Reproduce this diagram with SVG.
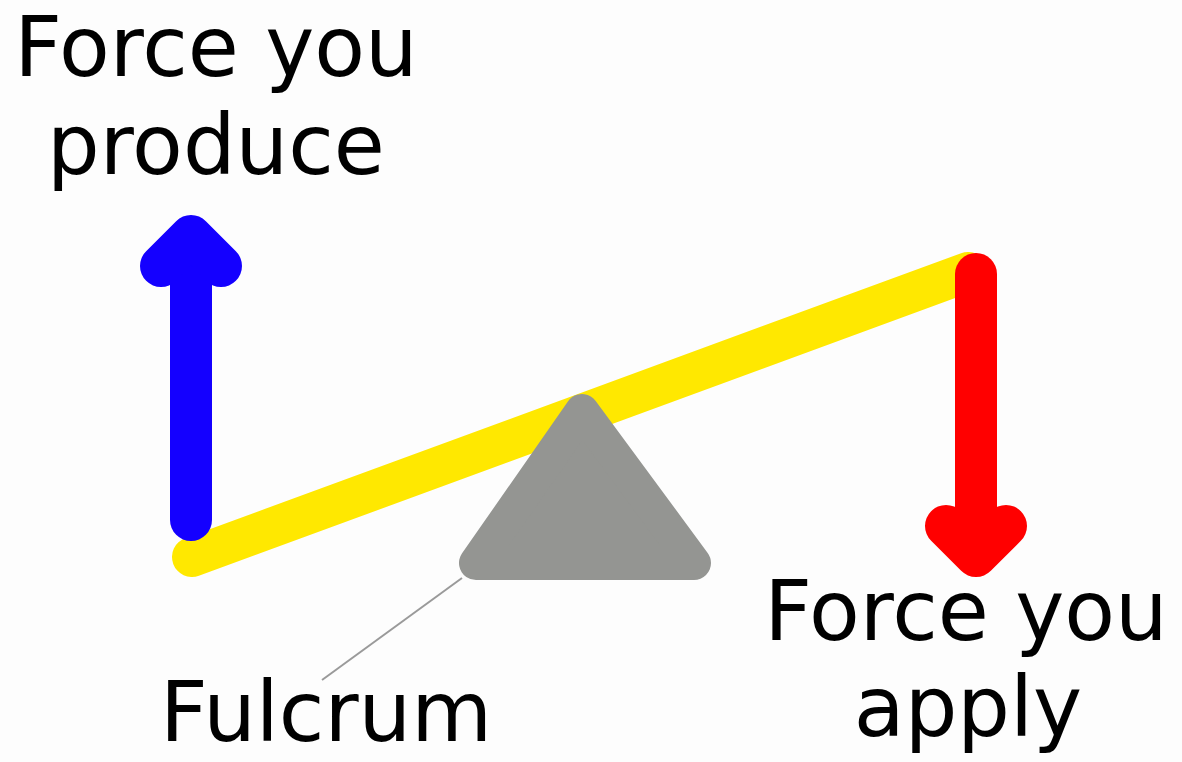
<svg xmlns="http://www.w3.org/2000/svg" width="1182" height="762" viewBox="0 0 1182 762">
<style>
text{font-family:"DejaVu Sans",sans-serif;font-size:83px;fill:#000;text-anchor:middle}
.arr{fill:none;stroke-width:42;stroke-linecap:round;stroke-linejoin:round}
</style>
<rect width="1182" height="762" fill="#fdfdfd"/>
<g id="lever">
<line x1="192" y1="557" x2="968" y2="272" stroke="#ffe800" stroke-width="40" stroke-linecap="round"/>
</g>
<g id="fulcrum">
<polygon points="582,411 476,563 694,563" fill="#949592" stroke="#949592" stroke-width="34" stroke-linejoin="round"/>
</g>
<g id="connectors">
<line x1="462" y1="578" x2="322" y2="680" stroke="#9a9a9a" stroke-width="2"/>
</g>
<g id="produce-arrow">
<polyline class="arr" stroke="#1400ff" points="191,520 191,240"/>
<polyline class="arr" stroke="#1400ff" points="161,266 191,236 221,266"/>
</g>
<g id="apply-arrow">
<polyline class="arr" stroke="#ff0000" points="976,274 976,550"/>
<polyline class="arr" stroke="#ff0000" points="946,526 976,556 1006,526"/>
</g>
<g id="label-produce">
<text x="216" y="76">Force you</text>
<text x="216" y="174">produce</text>
</g>
<g id="label-apply">
<text x="966" y="640">Force you</text>
<text x="968" y="736">apply</text>
</g>
<g id="label-fulcrum">
<text x="326" y="741">Fulcrum</text>
</g>
</svg>
